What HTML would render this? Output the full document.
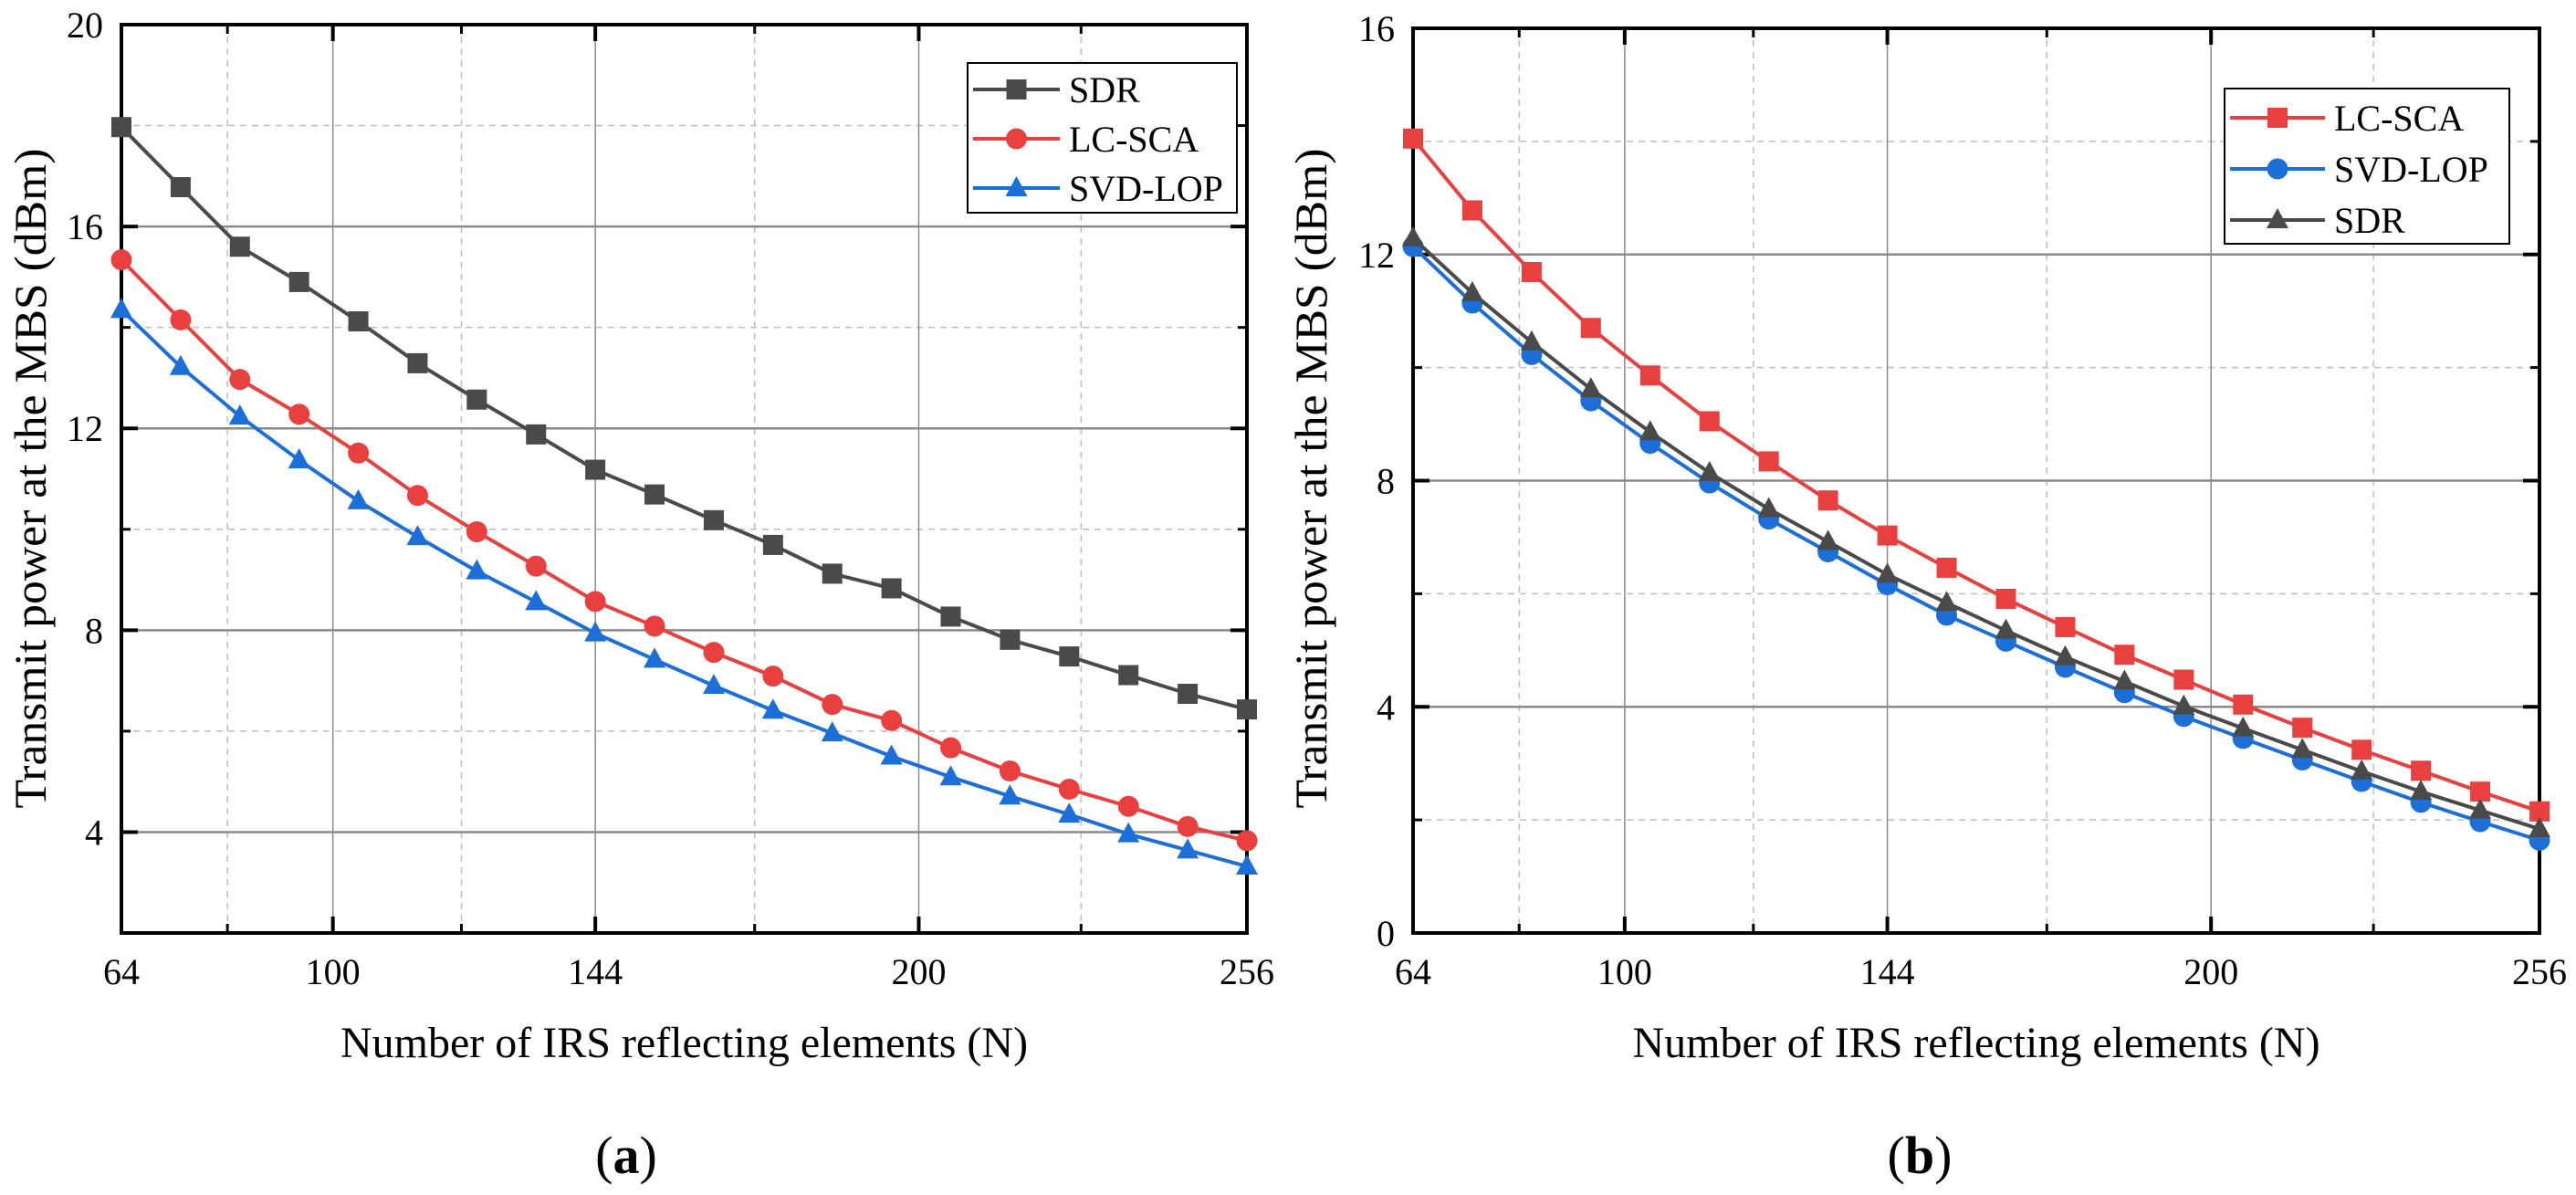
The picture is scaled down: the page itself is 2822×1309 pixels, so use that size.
<!DOCTYPE html>
<html><head><meta charset="utf-8"><style>
html,body{margin:0;padding:0;background:#fff;}
svg{display:block;font-family:"Liberation Serif",serif;}
</style></head><body>
<svg id="fig" width="2822" height="1309" viewBox="0 0 2822 1309" xmlns="http://www.w3.org/2000/svg"></svg>
<script>
// shared x axis (index positions of the 20 samples)
const xIndex = [0,1,2,3,4,5,6,7,8,9,10,11,12,13,14,15,16,17,18,19];
const xTickLabels = ["64","100","144","200","256"];
const xTickPos = [0,3.57,8,13.46,19];
const xMinorPos = [1.79,5.74,10.69,16.2];

// panel (a)
const aSDR = [17.97,16.78,15.6,14.9,14.12,13.29,12.57,11.88,11.18,10.69,10.18,9.69,9.12,8.83,8.27,7.81,7.48,7.11,6.74,6.43];
const aLCSCA = [15.34,14.15,12.97,12.28,11.51,10.67,9.95,9.27,8.57,8.08,7.56,7.09,6.53,6.21,5.67,5.21,4.85,4.51,4.11,3.83];
const aSVD = [14.35,13.22,12.24,11.37,10.56,9.85,9.17,8.56,7.94,7.42,6.9,6.41,5.96,5.5,5.09,4.71,4.35,3.96,3.64,3.32];
const aYTicks = [4,8,12,16,20];
const aYMinor = [6,10,14,18];

// panel (b)
const bLCSCA = [14.05,12.78,11.69,10.70,9.86,9.05,8.34,7.65,7.03,6.46,5.91,5.41,4.92,4.48,4.04,3.63,3.24,2.87,2.50,2.15];
const bSVD = [12.14,11.14,10.23,9.41,8.66,7.96,7.32,6.74,6.16,5.62,5.16,4.70,4.25,3.83,3.44,3.06,2.68,2.31,1.97,1.64];
const bSDR = [12.29,11.32,10.45,9.62,8.86,8.14,7.5,6.92,6.34,5.84,5.35,4.88,4.45,4.01,3.62,3.24,2.86,2.50,2.17,1.84];
const bYTicks = [0,4,8,12,16];
const bYMinor = [2,6,10,14];

const NS="http://www.w3.org/2000/svg";
const svg=document.getElementById('fig');
function mk(tag,attrs,parent){const e=document.createElementNS(NS,tag);for(const k in attrs)e.setAttribute(k,attrs[k]);(parent||svg).appendChild(e);return e;}

const C={gray:"#4a4a4a",red:"#e8403f",blue:"#1c6fd9"};

function panel(p){
  const g=mk('g',{});
  
  
  const L=p.L,R=p.R,T=p.T,B=p.B;
  const X=i=>L+(R-L)*(i-0)/19;
  const Y=v=>B-(B-T)*(v-p.ymin)/(p.ymax-p.ymin);
  // minor grid
  xMinorPos.forEach(t=>{const l=mk('line',{x1:X(t),x2:X(t),y1:T,y2:B,stroke:"#bdbdbd","stroke-width":1.5,"stroke-dasharray":"7,6"},g);
    });
  p.yMinor.forEach(v=>{const l=mk('line',{x1:L,x2:R,y1:Y(v),y2:Y(v),stroke:"#bdbdbd","stroke-width":1.5,"stroke-dasharray":"7,6"},g);
    });
  xTickPos.forEach(t=>{const l=mk('line',{x1:X(t),x2:X(t),y1:T,y2:B,stroke:"#8a8a8a","stroke-width":1.5},g);
    });
  p.yTicks.forEach(v=>{const l=mk('line',{x1:L,x2:R,y1:Y(v),y2:Y(v),stroke:"#8a8a8a","stroke-width":2.5},g);
    });
  // ticks
  xTickPos.forEach(t=>{mk('line',{x1:X(t),x2:X(t),y1:B,y2:B-18,stroke:"#000","stroke-width":4},g);mk('line',{x1:X(t),x2:X(t),y1:T,y2:T+18,stroke:"#000","stroke-width":4},g);});
  xMinorPos.forEach(t=>{mk('line',{x1:X(t),x2:X(t),y1:B,y2:B-10,stroke:"#000","stroke-width":3},g);mk('line',{x1:X(t),x2:X(t),y1:T,y2:T+10,stroke:"#000","stroke-width":3},g);});
  p.yTicks.forEach(v=>{mk('line',{x1:L,x2:L+18,y1:Y(v),y2:Y(v),stroke:"#000","stroke-width":4},g);mk('line',{x1:R,x2:R-18,y1:Y(v),y2:Y(v),stroke:"#000","stroke-width":4},g);});
  p.yMinor.forEach(v=>{mk('line',{x1:L,x2:L+10,y1:Y(v),y2:Y(v),stroke:"#000","stroke-width":3},g);mk('line',{x1:R,x2:R-10,y1:Y(v),y2:Y(v),stroke:"#000","stroke-width":3},g);});
  // frame
  const fr=mk('rect',{x:L,y:T,width:R-L,height:B-T,fill:"none",stroke:"#000","stroke-width":4},g);
  
  // tick labels
  xTickPos.forEach((t,i)=>{const e=mk('text',{x:X(t),y:B+56,"text-anchor":"middle","font-size":40},g);e.textContent=xTickLabels[i];
    });
  p.yTicks.forEach(v=>{const e=mk('text',{x:L-20,y:Y(v)+14,"text-anchor":"end","font-size":40},g);e.textContent=String(v);
    });
  // titles
  const xt=mk('text',{x:(L+R)/2,y:1158,"text-anchor":"middle","font-size":48},g);xt.textContent="Number of  IRS reflecting elements (N)";
  
  const yt=mk('text',{x:0,y:0,"text-anchor":"middle","font-size":50,textLength:723,lengthAdjust:"spacingAndGlyphs",transform:`translate(${p.ytx},524) rotate(-90)`},g);
  yt.textContent="Transmit power at the MBS (dBm)";
  
  const cap=mk('text',{x:p.capX,y:1285,"text-anchor":"middle","font-size":58},g);
  cap.innerHTML='(<tspan font-weight="bold">'+p.cap+'</tspan>)';
  
  // series
  function marker(type,cx,cy,col,parent){
    let m;
    if(type==='sq') m=mk('rect',{x:cx-11,y:cy-11,width:22,height:22,fill:col},parent);
    else if(type==='ci') m=mk('circle',{cx:cx,cy:cy,r:11.5,fill:col},parent);
    else m=mk('polygon',{points:`${cx},${cy-13} ${cx+12},${cy+9} ${cx-12},${cy+9}`,fill:col},parent);
    
  }
  p.series.forEach(s=>{
    const sg=mk('g',{},g);
    
    const pts=s.data.map((v,i)=>X(xIndex[i])+','+Y(v)).join(' ');
    const pl=mk('polyline',{points:pts,fill:"none",stroke:s.col,"stroke-width":4},sg);
    
    s.data.forEach((v,i)=>marker(s.m,X(xIndex[i]),Y(v),s.col,sg));
  });
  // legend
  const lg=mk('g',{},g);
  const lb=p.leg;
  mk('rect',{x:lb.x,y:lb.y,width:lb.w,height:lb.h,fill:"#fff",stroke:"#000","stroke-width":2},lg);
  p.series.forEach((s,i)=>{
    const ey=lb.y0+i*lb.dy;
    const eg=mk('g',{},lg);
    mk('line',{x1:lb.x+6,x2:lb.x+lb.lw,y1:ey,y2:ey,stroke:s.col,"stroke-width":4},eg);
    marker(s.m,lb.x+6+(lb.lw-6)/2,ey,s.col,eg);
    const t=mk('text',{x:lb.x+lb.lw+10,y:ey+14,"font-size":40},eg);t.textContent=s.label;
    
  });
}

panel({name:'panel-a',L:133,R:1366,T:27,B:1022,ymin:2,ymax:20,yTicks:aYTicks,yMinor:aYMinor,ytx:50,capX:686,cap:'a',
  series:[{label:'SDR',data:aSDR,col:C.gray,m:'sq'},{label:'LC-SCA',data:aLCSCA,col:C.red,m:'ci'},{label:'SVD-LOP',data:aSVD,col:C.blue,m:'tr'}],
  leg:{x:1060,y:69,w:295,h:164,y0:98,dy:54,lw:101}});
panel({name:'panel-b',L:1548,R:2782,T:31,B:1022,ymin:0,ymax:16,yTicks:bYTicks,yMinor:bYMinor,ytx:1453,capX:2103,cap:'b',
  series:[{label:'LC-SCA',data:bLCSCA,col:C.red,m:'sq'},{label:'SVD-LOP',data:bSVD,col:C.blue,m:'ci'},{label:'SDR',data:bSDR,col:C.gray,m:'tr'}],
  leg:{x:2437,y:97,w:312,h:170,y0:129,dy:56,lw:110}});
</script>
</body></html>
